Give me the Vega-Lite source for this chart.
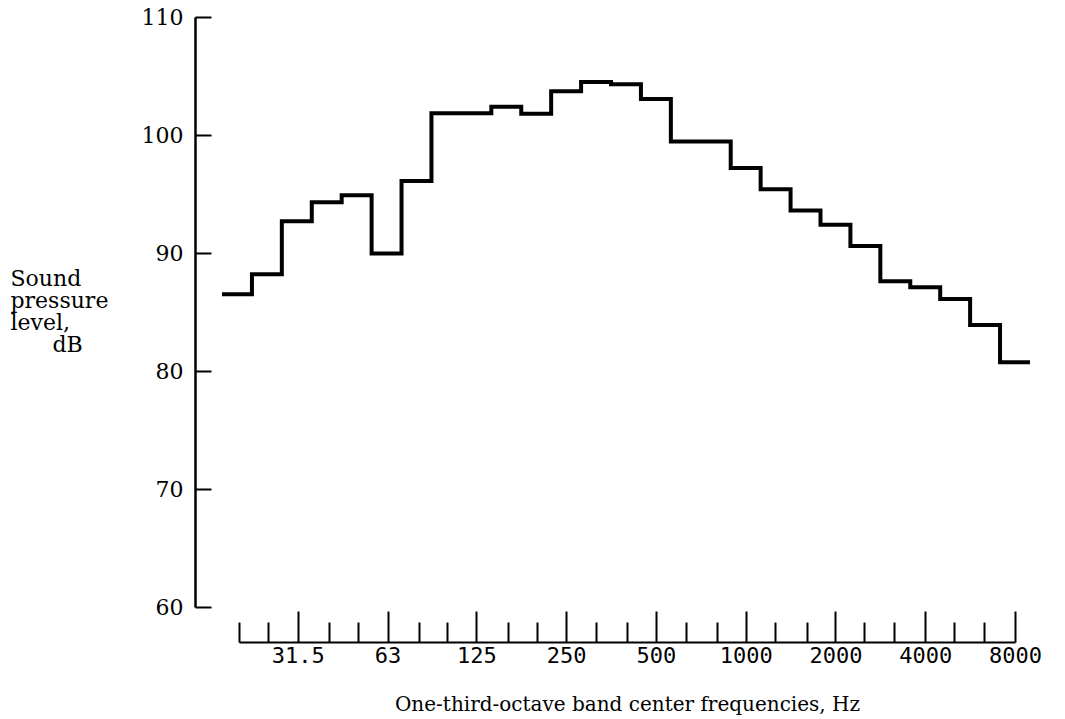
{
  "$schema": "https://vega.github.io/schema/vega-lite/v6.json",
  "width": 845,
  "height": 590,
  "autosize": {"type": "none"},
  "padding": {"left": 195, "top": 17, "right": 25, "bottom": 112},
  "background": "white",
  "config": {"view": {"stroke": null}, "axis": {"grid": false}},
  "data": {
    "values": [
      {"idx": 1, "band": 20, "lo": 17.54, "hi": 22.1, "level": 86.5},
      {"idx": 2, "band": 25, "lo": 22.1, "hi": 27.84, "level": 88.2},
      {"idx": 3, "band": 31.5, "lo": 27.84, "hi": 35.08, "level": 92.7},
      {"idx": 4, "band": 40, "lo": 35.08, "hi": 44.19, "level": 94.3},
      {"idx": 5, "band": 50, "lo": 44.19, "hi": 55.68, "level": 94.9},
      {"idx": 6, "band": 63, "lo": 55.68, "hi": 70.15, "level": 89.95},
      {"idx": 7, "band": 80, "lo": 70.15, "hi": 88.39, "level": 96.1},
      {"idx": 8, "band": 100, "lo": 88.39, "hi": 111.36, "level": 101.85},
      {"idx": 9, "band": 125, "lo": 111.36, "hi": 140.31, "level": 101.85},
      {"idx": 10, "band": 160, "lo": 140.31, "hi": 176.78, "level": 102.4},
      {"idx": 11, "band": 200, "lo": 176.78, "hi": 222.72, "level": 101.8},
      {"idx": 12, "band": 250, "lo": 222.72, "hi": 280.62, "level": 103.7},
      {"idx": 13, "band": 315, "lo": 280.62, "hi": 353.55, "level": 104.5},
      {"idx": 14, "band": 400, "lo": 353.55, "hi": 445.45, "level": 104.3},
      {"idx": 15, "band": 500, "lo": 445.45, "hi": 561.23, "level": 103.05},
      {"idx": 16, "band": 630, "lo": 561.23, "hi": 707.11, "level": 99.45},
      {"idx": 17, "band": 800, "lo": 707.11, "hi": 890.9, "level": 99.45},
      {"idx": 18, "band": 1000, "lo": 890.9, "hi": 1122.46, "level": 97.2},
      {"idx": 19, "band": 1250, "lo": 1122.46, "hi": 1414.21, "level": 95.4},
      {"idx": 20, "band": 1600, "lo": 1414.21, "hi": 1781.8, "level": 93.6},
      {"idx": 21, "band": 2000, "lo": 1781.8, "hi": 2244.92, "level": 92.4},
      {"idx": 22, "band": 2500, "lo": 2244.92, "hi": 2828.43, "level": 90.6},
      {"idx": 23, "band": 3150, "lo": 2828.43, "hi": 3563.59, "level": 87.6},
      {"idx": 24, "band": 4000, "lo": 3563.59, "hi": 4489.85, "level": 87.1},
      {"idx": 25, "band": 5000, "lo": 4489.85, "hi": 5656.85, "level": 86.1},
      {"idx": 26, "band": 6300, "lo": 5656.85, "hi": 7127.19, "level": 83.9},
      {"idx": 27, "band": 8000, "lo": 7127.19, "hi": 8979.7, "level": 80.75}
    ]
  },
  "transform": [{"fold": ["lo", "hi"], "as": ["edge_key", "edge"]}],
  "mark": {"type": "line", "color": "black", "strokeWidth": 4, "interpolate": "linear", "clip": false},
  "encoding": {
    "x": {
      "field": "edge",
      "type": "quantitative",
      "scale": {"type": "log", "domain": [20, 8000], "range": [44, 820], "nice": false},
      "axis": {
        "values": [20, 25, 31.5, 40, 50, 63, 80, 100, 125, 160, 200, 250, 315, 400, 500, 630, 800, 1000, 1250, 1600, 2000, 2500, 3150, 4000, 5000, 6300, 8000],
        "labelExpr": "indexof([31.5, 63, 125, 250, 500, 1000, 2000, 4000, 8000], datum.value) >= 0 ? '' + datum.value : ''",
        "offset": 35,
        "domainColor": "black",
        "domainWidth": 2,
        "tickColor": "black",
        "tickWidth": 2,
        "tickSize": {"condition": {"test": "indexof([31.5, 63, 125, 250, 500, 1000, 2000, 4000, 8000], datum.value) >= 0", "value": -31}, "value": -20},
        "labelFont": "DejaVu Sans Mono",
        "labelFontSize": 22,
        "labelColor": "black",
        "labelBaseline": "top",
        "labelPadding": 34,
        "labelOverlap": false,
        "labelFlush": false,
        "labelBound": false,
        "title": "One-third-octave band center frequencies, Hz",
        "titleFont": "DejaVu Serif",
        "titleFontSize": 20,
        "titleFontWeight": "normal",
        "titleColor": "black",
        "titleBaseline": "alphabetic",
        "titleY": 68
      }
    },
    "y": {
      "field": "level",
      "type": "quantitative",
      "scale": {"domain": [60, 110], "nice": false, "zero": false},
      "axis": {
        "values": [60, 70, 80, 90, 100, 110],
        "domainColor": "black",
        "domainWidth": 2.5,
        "tickColor": "black",
        "tickWidth": 2,
        "tickSize": -16,
        "labelFont": "DejaVu Serif",
        "labelFontSize": 22,
        "labelColor": "black",
        "labelPadding": 28,
        "title": ["Sound", "pressure", "level,", "\u200b\u00a0\u00a0\u00a0\u00a0\u00a0\u00a0dB"],
        "titleAngle": 0,
        "titleAlign": "left",
        "titleBaseline": "alphabetic",
        "titleX": -185,
        "titleY": 268,
        "titleFont": "DejaVu Serif",
        "titleFontSize": 22,
        "titleFontWeight": "normal",
        "titleColor": "black",
        "titleLineHeight": 22
      }
    },
    "order": [{"field": "idx", "type": "quantitative"}, {"field": "edge_key", "sort": "descending"}]
  }
}
